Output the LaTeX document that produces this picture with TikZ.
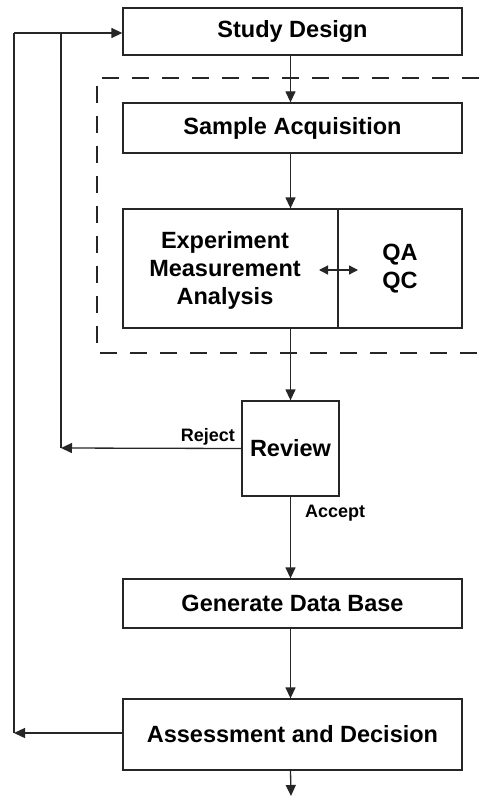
\documentclass[tikz,border=0pt]{standalone}
\usepackage{fontspec}
\setmainfont{Liberation Sans}
\usetikzlibrary{arrows.meta}
\begin{document}
\begin{tikzpicture}[x=1pt,y=-1pt,
  box/.style={draw=black!85,line width=1.3pt,inner sep=0pt,font=\fontsize{23.5}{28}\selectfont\bfseries,align=center},
  wide/.style={box,minimum width=339pt},
  arr/.style={draw=black!85,line width=1.3pt,-{Triangle[length=11pt,width=10pt]}},
  dbl/.style={draw=black!85,line width=1.3pt,{Triangle[length=9pt,width=9pt]}-{Triangle[length=9pt,width=9pt]}},
  ln/.style={draw=black!85,line width=1.3pt},
  lbl/.style={font=\fontsize{18}{22}\selectfont\bfseries,inner sep=0pt},
  txt/.style={font=\fontsize{23.5}{28}\selectfont\bfseries,align=center,inner sep=0pt}]
\useasboundingbox (0,0) rectangle (479,797);
\fill[white] (0,0) rectangle (479,797);
% dashed region
\draw[black!85,line width=2.6pt,dash pattern=on 17pt off 13pt] (479,78) -- (97,78) -- (97,353) -- (479,353);
% boxes
\node[wide,minimum height=47pt] (sd) at (292.5,31.5) {Study Design};
\node[wide,minimum height=50pt] (sa) at (292.5,128) {Sample Acquisition};
\node[box,minimum width=215pt,minimum height=119pt] (exp) at (230.5,268.5) {};
\node[box,minimum width=124pt,minimum height=119pt] (qa) at (400,268.5) {QA\\QC};
\node[txt] (expt) at (225,270) {Experiment\\Measurement\\Analysis};
\node[box,minimum width=97pt,minimum height=95pt] (rev) at (290.5,448.5) {Review};
\node[wide,minimum height=49pt] (gd) at (292.5,603.5) {Generate Data Base};
\node[wide,minimum height=71pt] (ad) at (292.5,734.5) {Assessment and Decision};
% labels
\node[lbl,anchor=base east] (rej) at (235,441) {Reject};
\node[lbl,anchor=base west] (acc) at (305,517) {Accept};
% coordinates
\coordinate (o1) at (14,33);
\coordinate (i1) at (61,33);
\coordinate (o2) at (14,733);
\coordinate (i2) at (61,448);
\coordinate (endp) at (291,796);
% main flow
\draw[arr] (sd.south -| rev) -- (sa.north -| rev);
\draw[arr] (sa.south -| rev) -- (exp.north -| rev);
\draw[arr] (exp.south -| rev) -- (rev.north);
\draw[arr] (rev.south) -- (gd.north -| rev);
\draw[arr] (gd.south -| rev) -- (ad.north -| rev);
\draw[arr] (ad.south -| rev) -- (endp);
% QA link
\coordinate (d1) at (319,270);
\coordinate (d2) at (358,270);
\draw[dbl] (d1) -- (d2);
% feedback loops
\draw[arr] (rev.west) -- (i2);
\draw[ln] (i2) -- (i1);
\draw[arr] (ad.west |- o2) -- (o2);
\draw[ln] (o2) -- (o1);
\draw[arr] (o1) -- (sd.west |- o1);
\end{tikzpicture}
\end{document}
